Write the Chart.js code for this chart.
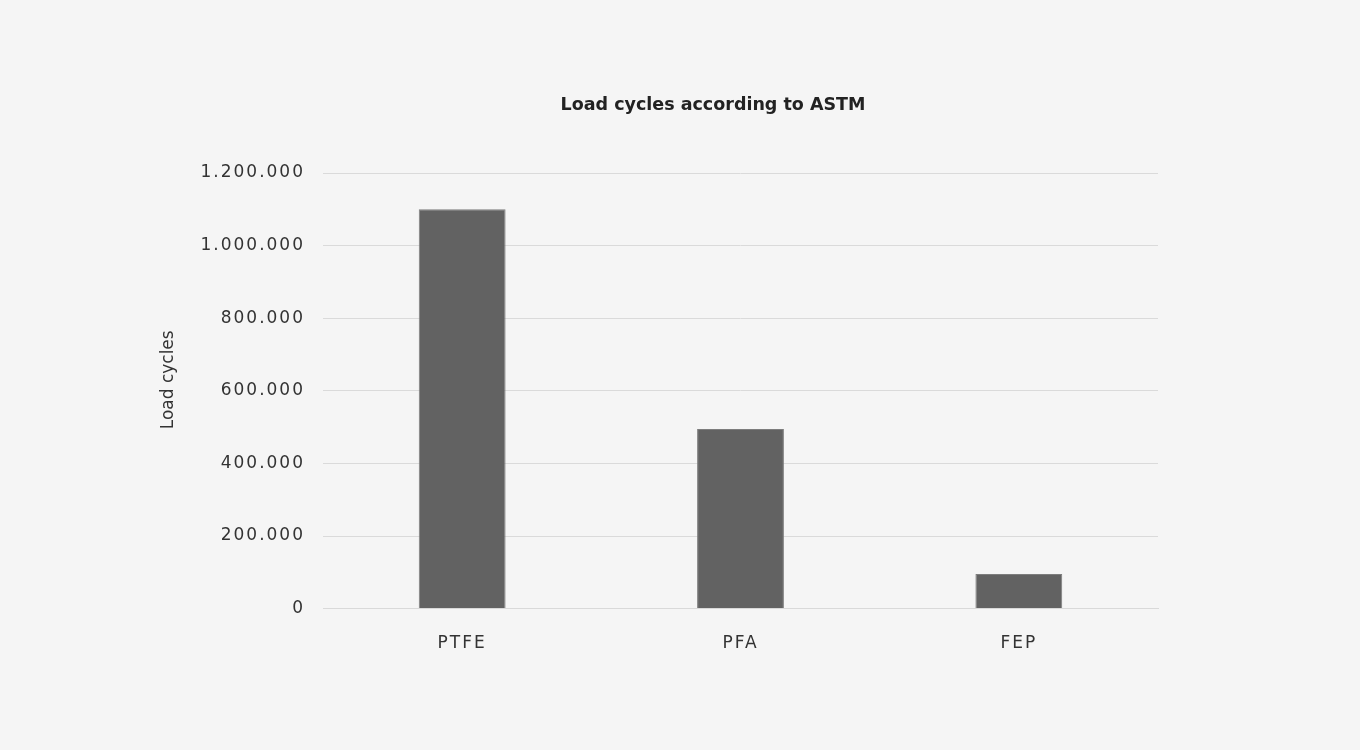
<!DOCTYPE html>
<html>
<head>
<meta charset="utf-8">
<script src="https://cdn.jsdelivr.net/npm/chart.js@4.4.1/dist/chart.umd.min.js"></script>
<style>
    html, body { margin: 0; padding: 0; background: #f5f5f5; }
    #wrap { position: absolute; left: 150px; top: 0; width: 1126px; height: 750px; }
</style>
</head>
<body>
<div id="wrap"><canvas id="graficaCiclos" width="1126" height="750"></canvas></div>
<script>
const materiales = ['PTFE', 'PFA', 'FEP'];
const ciclos = [1100000, 495000, 95000];
const ticksY = [0, 200000, 400000, 600000, 800000, 1000000, 1200000];

const fuente = 'DejaVu Sans, Verdana, sans-serif';

function miles(v) {
    return String(v).replace(/\B(?=(\d{3})+(?!\d))/g, '.');
}

// espaciado de letras solo para las etiquetas de los ejes
const espaciado = {
    id: 'espaciado',
    beforeDraw(chart) {
        chart.ctx.letterSpacing = '0px';
        // el titulo del eje y va un poco por encima del centro
        const y = chart.scales.y;
        if (!y._tituloMovido) {
            const original = Object.getPrototypeOf(y).drawTitle;
            y.drawTitle = function () {
                const t = this.top, b = this.bottom;
                this.top -= 11;
                this.bottom -= 11;
                original.call(this);
                this.top = t;
                this.bottom = b;
            };
            y._tituloMovido = true;
        }
    },
    afterDatasetsDraw(chart) { chart.ctx.letterSpacing = '2px'; },
    afterDraw(chart) { chart.ctx.letterSpacing = '0px'; },
    afterLayout(chart) {
        // centrar el titulo sobre todo el lienzo
        chart.titleBlock.right = chart.width;
    }
};

let ctx = document.getElementById('graficaCiclos').getContext('2d');
new Chart(ctx, {
    type: 'bar',
    data: {
        labels: materiales,
        datasets: [{
            label: 'Load cycles',
            data: ciclos,
            backgroundColor: '#626262',
            borderColor: '#7d7d7d',
            borderWidth: 1,
            categoryPercentage: 1,
            barPercentage: 0.312
        }]
    },
    options: {
        responsive: false,
        animation: false,
        devicePixelRatio: 1,
        layout: { padding: { top: 0, left: 0, right: 118, bottom: 71 } },
        plugins: {
            legend: { display: false },
            tooltip: { enabled: false },
            title: {
                display: true,
                text: 'Load cycles according to ASTM',
                color: '#222',
                font: { family: fuente, size: 17.5, weight: 'bold' },
                padding: { top: 94.5, bottom: 57.5 }
            }
        },
        scales: {
            x: {
                grid: { display: false, drawTicks: false },
                border: { display: true, color: '#d9d9d9', width: 1, z: 1 },
                ticks: {
                    color: '#333',
                    font: { family: fuente, size: 17 },
                    padding: 25,
                    maxRotation: 0,
                    z: 1
                }
            },
            y: {
                min: 0,
                max: 1200000,
                afterFit(scale) { scale.width = 173; },
                afterBuildTicks(scale) { scale.ticks = ticksY.map(v => ({ value: v })); },
                grid: { color: '#dadada', drawTicks: false },
                border: { display: false },
                ticks: {
                    color: '#333',
                    font: { family: fuente, size: 17 },
                    padding: 18,
                    z: 1,
                    callback: v => miles(v)
                },
                title: {
                    display: true,
                    text: 'Load cycles',
                    color: '#333',
                    font: { family: fuente, size: 17 },
                    padding: { top: 8, bottom: 0 }
                }
            }
        }
    },
    plugins: [espaciado]
});
</script>
</body>
</html>
